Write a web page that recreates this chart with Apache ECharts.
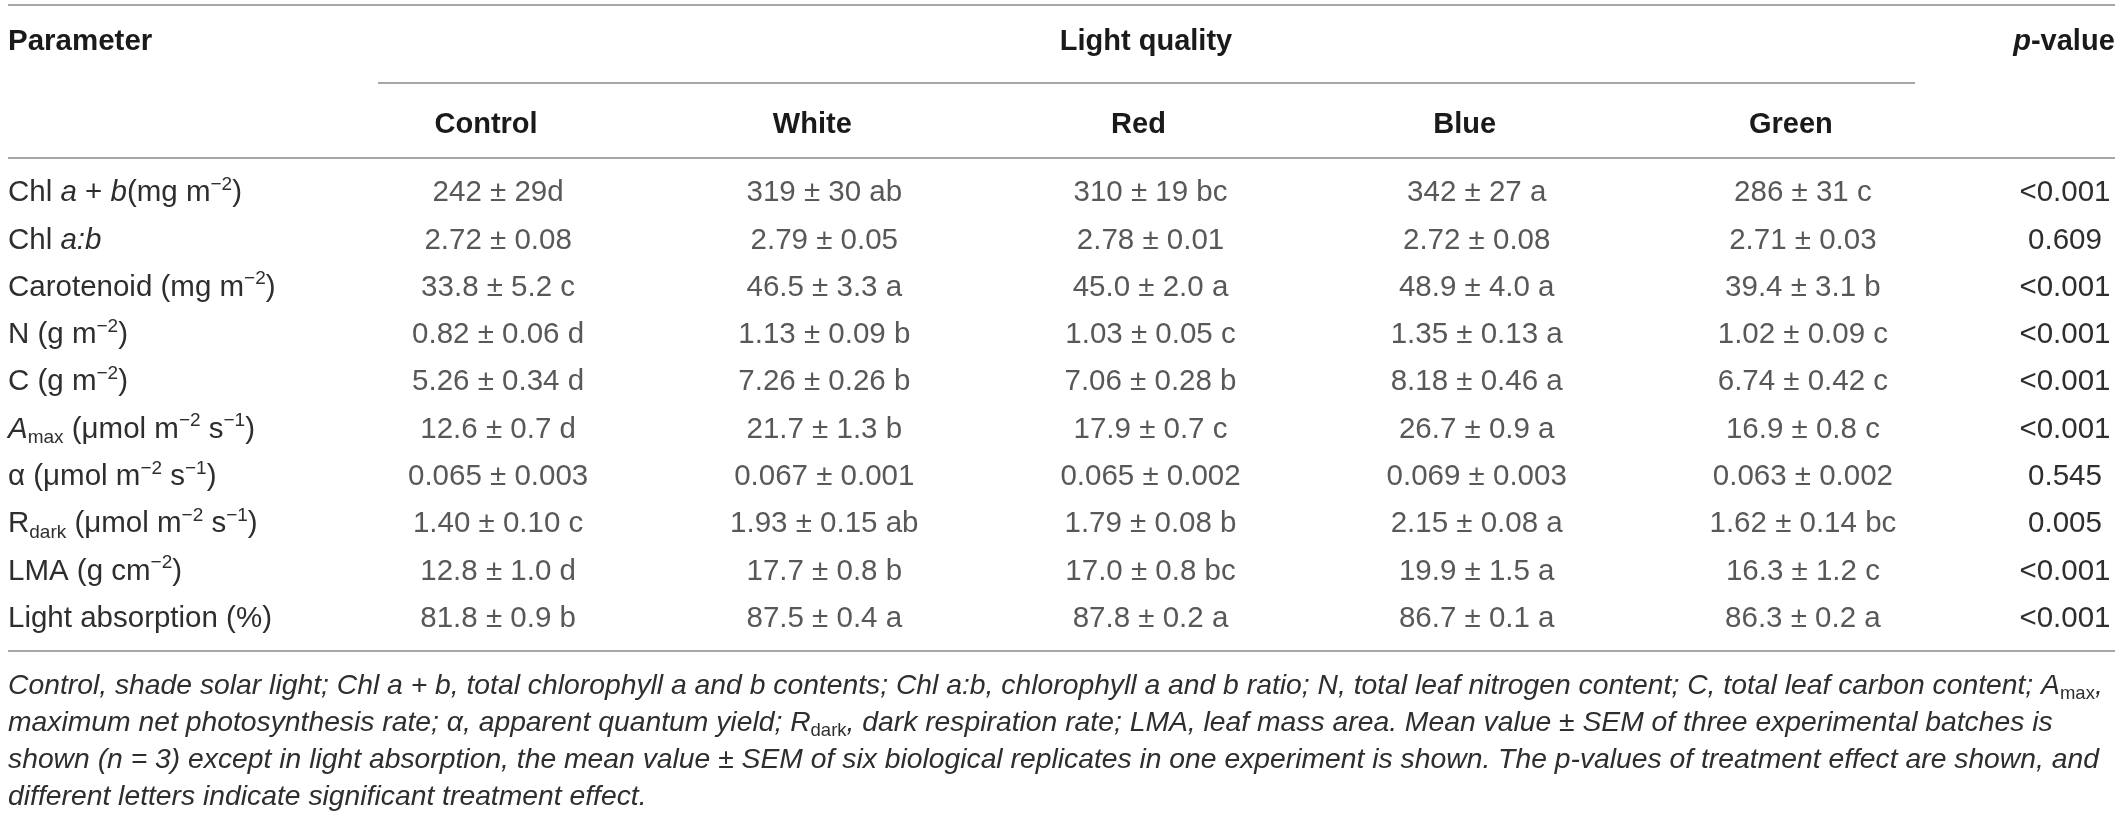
<!DOCTYPE html>
<html>
<head>
<meta charset="utf-8">
<title>Light quality table</title>
<script src="https://cdn.jsdelivr.net/npm/echarts@6.0.0/dist/echarts.min.js"></script>
<style>
	html, body { margin: 0; padding: 0; background: #fff; }
	#table-chart { width: 2120px; height: 816px; }
</style>
</head>
<body>
<div id="table-chart"></div>
<script>
	// 行: 参数
	var params = ['Chl a + b', 'Chl a:b', 'Carotenoid', 'N', 'C', 'Amax', 'alpha', 'Rdark', 'LMA', 'Light absorption'];
	// 列: 光质处理
	var treatments = ['Control', 'White', 'Red', 'Blue', 'Green'];

	var control = ['242 ± 29d', '2.72 ± 0.08', '33.8 ± 5.2 c', '0.82 ± 0.06 d', '5.26 ± 0.34 d', '12.6 ± 0.7 d', '0.065 ± 0.003', '1.40 ± 0.10 c', '12.8 ± 1.0 d', '81.8 ± 0.9 b'];
	var white = ['319 ± 30 ab', '2.79 ± 0.05', '46.5 ± 3.3 a', '1.13 ± 0.09 b', '7.26 ± 0.26 b', '21.7 ± 1.3 b', '0.067 ± 0.001', '1.93 ± 0.15 ab', '17.7 ± 0.8 b', '87.5 ± 0.4 a'];
	var red = ['310 ± 19 bc', '2.78 ± 0.01', '45.0 ± 2.0 a', '1.03 ± 0.05 c', '7.06 ± 0.28 b', '17.9 ± 0.7 c', '0.065 ± 0.002', '1.79 ± 0.08 b', '17.0 ± 0.8 bc', '87.8 ± 0.2 a'];
	var blue = ['342 ± 27 a', '2.72 ± 0.08', '48.9 ± 4.0 a', '1.35 ± 0.13 a', '8.18 ± 0.46 a', '26.7 ± 0.9 a', '0.069 ± 0.003', '2.15 ± 0.08 a', '19.9 ± 1.5 a', '86.7 ± 0.1 a'];
	var green = ['286 ± 31 c', '2.71 ± 0.03', '39.4 ± 3.1 b', '1.02 ± 0.09 c', '6.74 ± 0.42 c', '16.9 ± 0.8 c', '0.063 ± 0.002', '1.62 ± 0.14 bc', '16.3 ± 1.2 c', '86.3 ± 0.2 a'];
	var pValues = ['<0.001', '0.609', '<0.001', '<0.001', '<0.001', '<0.001', '0.545', '0.005', '<0.001', '<0.001'];

	// 参数名的显示文本(上下标、斜体)
	var paramLabels = {
		'Chl a + b': 'Chl {i|a} + {i|b}(mg m{sup|−2})',
		'Chl a:b': 'Chl {i|a:b}',
		'Carotenoid': 'Carotenoid (mg m{sup|−2})',
		'N': 'N (g m{sup|−2})',
		'C': 'C (g m{sup|−2})',
		'Amax': '{i|A}{sub|max} (μmol m{sup|−2} s{sup|−1})',
		'alpha': 'α (μmol m{sup|−2} s{sup|−1})',
		'Rdark': 'R{sub|dark} (μmol m{sup|−2} s{sup|−1})',
		'LMA': 'LMA (g cm{sup|−2})',
		'Light absorption': 'Light absorption (%)'
	};

	var captionLines = [
		'Control, shade solar light; Chl a + b, total chlorophyll a and b contents; Chl a:b, chlorophyll a and b ratio; N, total leaf nitrogen content; C, total leaf carbon content; A{sub|max},',
		'maximum net photosynthesis rate; α, apparent quantum yield; R{sub|dark}, dark respiration rate; LMA, leaf mass area. Mean value ± SEM of three experimental batches is',
		'shown (n = 3) except in light absorption, the mean value ± SEM of six biological replicates in one experiment is shown. The p-values of treatment effect are shown, and',
		'different letters indicate significant treatment effect.'
	];

	var FONT = '"Liberation Sans", Arial, sans-serif';
	var TEXT = '#2e2e2e';
	var HEAD = '#1a1a1a';
	var RULE = '#8a8a8a';

	var myChart = echarts.init(document.getElementById('table-chart'));

	var columns = [control, white, red, blue, green];
	var series = treatments.map(function (name, ci) {
		return {
			name: name,
			type: 'scatter',
			symbolSize: 1,
			itemStyle: { color: 'rgba(0,0,0,0)' },
			emphasis: { disabled: true },
			label: {
				show: true,
				position: 'inside',
				offset: [12, 0],
				color: TEXT,
				fontSize: 29.5,
				fontFamily: FONT,
				formatter: function (p) {
					return p.value[2];
				}
			},
			data: columns[ci].map(function (v, ri) {
				return [ci, ri, v];
			})
		};
	});

	var subSup = {
		i: { fontStyle: 'italic', fontSize: 29.5, lineHeight: 36, fontFamily: FONT, color: TEXT },
		sup: { fontSize: 19, lineHeight: 19, verticalAlign: 'top', fontFamily: FONT, color: TEXT },
		sub: { fontSize: 19, lineHeight: 19, verticalAlign: 'bottom', fontFamily: FONT, color: TEXT }
	};

	var graphic = [
		{ type: 'line', shape: { x1: 8, y1: 5, x2: 2115, y2: 5 }, style: { stroke: RULE, lineWidth: 1.6 } },
		{ type: 'line', shape: { x1: 378, y1: 83, x2: 1915, y2: 83 }, style: { stroke: RULE, lineWidth: 1.6 } },
		{ type: 'line', shape: { x1: 8, y1: 158, x2: 2115, y2: 158 }, style: { stroke: RULE, lineWidth: 1.6 } },
		{ type: 'line', shape: { x1: 8, y1: 651, x2: 2115, y2: 651 }, style: { stroke: RULE, lineWidth: 1.6 } },
		{
			type: 'text', x: 8, y: 42,
			style: { text: 'Parameter', fontWeight: 'bold', fontSize: 29.5, fontFamily: FONT, fill: HEAD, verticalAlign: 'middle' }
		},
		{
			type: 'text', x: 1146, y: 42,
			style: { text: 'Light quality', fontWeight: 'bold', fontSize: 29, fontFamily: FONT, fill: HEAD, align: 'center', verticalAlign: 'middle' }
		},
		{
			type: 'text', x: 2064, y: 42,
			style: {
				text: '{pi|p}-value', fontWeight: 'bold', fontSize: 29, fontFamily: FONT, fill: HEAD,
				align: 'center', verticalAlign: 'middle',
				rich: { pi: { fontStyle: 'italic', fontWeight: 'bold', fontSize: 29, fontFamily: FONT, color: HEAD } }
			}
		}
	];

	var captionY = [686, 723, 760, 797];
	captionLines.forEach(function (line, k) {
		graphic.push({
			type: 'text', x: 8, y: captionY[k],
			style: {
				text: line, fontStyle: 'italic', fontSize: 28.3, lineHeight: 34, fontFamily: FONT, fill: TEXT,
				verticalAlign: 'middle',
				rich: { sub: { fontSize: 18.5, lineHeight: 18.5, verticalAlign: 'bottom', fontFamily: FONT, color: TEXT } }
			}
		});
	});

	var hidden = { axisLine: { show: false }, axisTick: { show: false }, splitLine: { show: false } };

	var option = {
		backgroundColor: '#fff',
		animation: false,
		grid: { left: 323, right: 166, top: 169.5, bottom: 173.5 },
		xAxis: [Object.assign({
			type: 'category',
			position: 'top',
			data: treatments,
			axisLabel: {
				interval: 0, margin: 45, verticalAlign: 'middle',
				fontWeight: 'bold', fontSize: 29, fontFamily: FONT, color: HEAD
			}
		}, hidden)],
		yAxis: [Object.assign({
			type: 'category',
			inverse: true,
			position: 'left',
			data: params,
			axisLabel: {
				interval: 0, align: 'left', margin: 315,
				fontSize: 29.5, lineHeight: 36, fontFamily: FONT, color: TEXT,
				formatter: function (v) {
					return paramLabels[v];
				},
				rich: subSup
			}
		}, hidden), Object.assign({
			type: 'category',
			inverse: true,
			position: 'right',
			data: params,
			axisLabel: {
				interval: 0, align: 'center', margin: 111,
				fontSize: 29.5, fontFamily: FONT, color: TEXT,
				formatter: function (v, i) {
					return pValues[i];
				}
			}
		}, hidden)],
		graphic: graphic,
		series: series
	};

	myChart.setOption(option);
</script>
</body>
</html>
